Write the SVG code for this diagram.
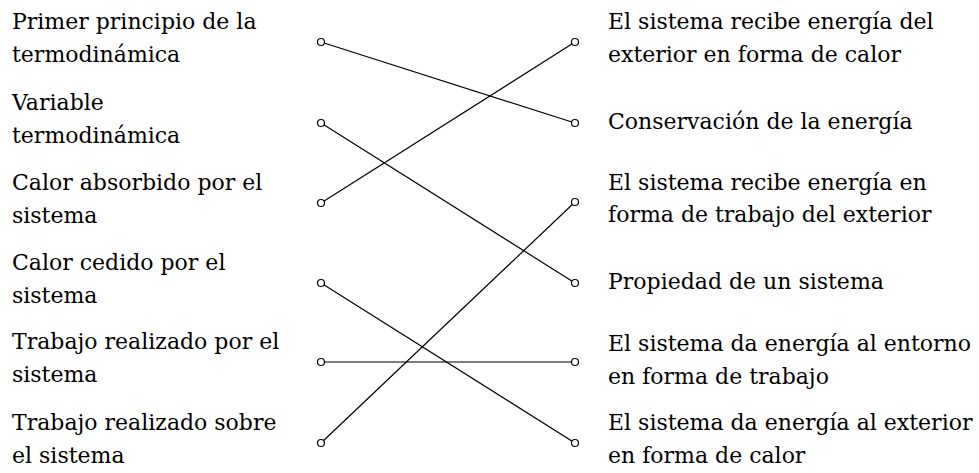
<svg xmlns="http://www.w3.org/2000/svg" width="979" height="473" viewBox="0 0 979 473">
<style>
text{font-family:"DejaVu Serif","Liberation Serif",serif;font-size:22px;fill:#000}
.ln{stroke:#000;stroke-width:1.2;fill:none}
.pt{stroke:#000;stroke-width:1.2;fill:#fff}
</style>
<rect width="979" height="473" fill="#fff"/>
<g id="connectors">
<line class="ln" x1="321" y1="42" x2="575" y2="123"/>
<line class="ln" x1="321" y1="123" x2="575" y2="283"/>
<line class="ln" x1="321" y1="203" x2="575" y2="42"/>
<line class="ln" x1="321" y1="283" x2="575" y2="443"/>
<line class="ln" x1="321" y1="362" x2="575" y2="362"/>
<line class="ln" x1="321" y1="443" x2="575" y2="202"/>
</g>
<g id="L1"><text x="12" y="29">Primer principio de la</text><text x="12" y="62">termodinámica</text><circle class="pt" cx="321" cy="42" r="3.5"/></g>
<g id="L2"><text x="12" y="110">Variable</text><text x="12" y="143">termodinámica</text><circle class="pt" cx="321" cy="123" r="3.5"/></g>
<g id="L3"><text x="12" y="190">Calor absorbido por el</text><text x="12" y="223">sistema</text><circle class="pt" cx="321" cy="203" r="3.5"/></g>
<g id="L4"><text x="12" y="270">Calor cedido por el</text><text x="12" y="303">sistema</text><circle class="pt" cx="321" cy="283" r="3.5"/></g>
<g id="L5"><text x="12" y="349">Trabajo realizado por el</text><text x="12" y="382">sistema</text><circle class="pt" cx="321" cy="362" r="3.5"/></g>
<g id="L6"><text x="12" y="430">Trabajo realizado sobre</text><text x="12" y="463">el sistema</text><circle class="pt" cx="321" cy="443" r="3.5"/></g>
<g id="R1"><text x="608" y="29">El sistema recibe energía del</text><text x="608" y="62">exterior en forma de calor</text><circle class="pt" cx="575" cy="42" r="3.5"/></g>
<g id="R2"><text x="608" y="129">Conservación de la energía</text><circle class="pt" cx="575" cy="123" r="3.5"/></g>
<g id="R3"><text x="608" y="190">El sistema recibe energía en</text><text x="608" y="222">forma de trabajo del exterior</text><circle class="pt" cx="575" cy="202" r="3.5"/></g>
<g id="R4"><text x="608" y="289">Propiedad de un sistema</text><circle class="pt" cx="575" cy="283" r="3.5"/></g>
<g id="R5"><text x="608" y="351">El sistema da energía al entorno</text><text x="608" y="384">en forma de trabajo</text><circle class="pt" cx="575" cy="362" r="3.5"/></g>
<g id="R6"><text x="608" y="430">El sistema da energía al exterior</text><text x="608" y="463">en forma de calor</text><circle class="pt" cx="575" cy="443" r="3.5"/></g>
</svg>
